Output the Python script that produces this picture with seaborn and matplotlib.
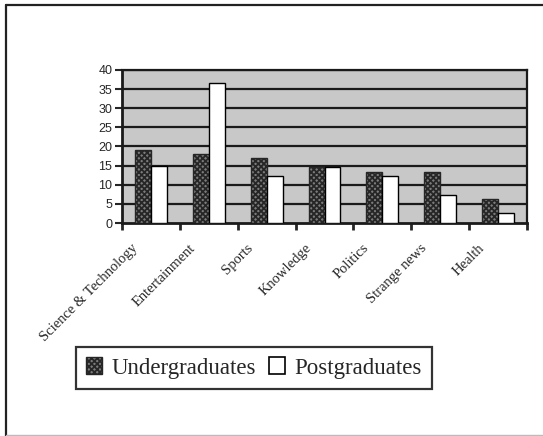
import matplotlib
matplotlib.use("Agg")
import matplotlib.pyplot as plt
from matplotlib.lines import Line2D
from matplotlib.patches import Patch
from matplotlib.transforms import ScaledTranslation
import seaborn as sns
import pandas as pd

categories = ["Science & Technology", "Entertainment", "Sports", "Knowledge",
              "Politics", "Strange news", "Health"]
undergraduates = [19.0, 18.0, 17.0, 14.7, 13.3, 13.3, 6.2]
postgraduates = [14.8, 36.5, 12.3, 14.7, 12.3, 7.2, 2.6]
series_names = ["Undergraduates", "Postgraduates"]
y_ticks = [0, 5, 10, 15, 20, 25, 30, 35, 40]

df = pd.DataFrame({
    "category": categories * 2,
    "value": undergraduates + postgraduates,
    "group": [series_names[0]] * len(categories) + [series_names[1]] * len(categories),
})

sns.set_theme(style="white")
plt.rcParams["hatch.linewidth"] = 1.3

UG_FACE = "#7c7c7c"
UG_HATCH = "#262626"

fig = plt.figure(figsize=(5.43, 4.36), dpi=100)
ax = fig.add_axes([122 / 543, 1 - 223 / 436, (527 - 122) / 543, (223 - 70) / 436])
ax.set_facecolor("#c8c8c8")

sns.barplot(data=df, x="category", y="value", hue="group", order=categories,
            hue_order=series_names, palette=[UG_FACE, "white"], width=0.55,
            gap=0, edgecolor="black", linewidth=1.0, ax=ax, legend=False,
            zorder=3)

n = len(categories)
for i, p in enumerate(ax.patches[:2 * n]):
    if i < n:
        p.set_hatch("xxxxxx")
        p.set_edgecolor(UG_HATCH)
        p.set_facecolor(UG_FACE)

ax.set_ylim(0, 40)
ax.set_xlim(-0.5, n - 0.5)
ax.set_yticks(y_ticks)
ax.set_yticklabels([str(t) for t in y_ticks], fontsize=9, family="Liberation Sans")
for t in y_ticks[1:]:
    ax.axhline(t, color="#1a1a1a", linewidth=1.6, zorder=1)

ax.set_xticks([i - 0.5 for i in range(n + 1)])
ax.set_xticklabels([])
ax.set_xticks(range(n), minor=True)
ax.set_xticklabels(categories, minor=True, rotation=45, ha="right",
                   rotation_mode="anchor", fontsize=10.5, family="Liberation Serif")
ax.tick_params(axis="x", which="minor", length=0, pad=14)
ax.tick_params(axis="x", which="major", length=5, width=2, direction="out", bottom=True)
ax.tick_params(axis="y", length=5, width=1.5, direction="out", left=True, pad=2)
ax.set_xlabel("")
ax.set_ylabel("")
for s in ax.spines.values():
    s.set_visible(True)
    s.set_color("#1a1a1a")
    s.set_linewidth(1.6)
ax.spines["left"].set_linewidth(2)
ax.spines["bottom"].set_linewidth(2)

shift = ScaledTranslation(-20 / 100, 1 / 100, fig.dpi_scale_trans)
for lab in ax.get_xticklabels(minor=True):
    lab.set_transform(lab.get_transform() + shift)

handles = [Patch(facecolor=UG_FACE, edgecolor=UG_HATCH, hatch="xxxxxx", label=series_names[0]),
           Patch(facecolor="white", edgecolor="black", linewidth=1.2, label=series_names[1])]
leg = fig.legend(handles=handles, loc="center", bbox_to_anchor=(254 / 543, 1 - 368 / 436),
                 ncol=2, frameon=True, fancybox=False, edgecolor="black",
                 prop={"family": "Liberation Serif", "size": 16.5},
                 handlelength=0.7, handleheight=0.7, handletextpad=0.4,
                 columnspacing=0.6, borderpad=0.45)
leg.get_frame().set_linewidth(1.6)

fig.add_artist(Line2D([6 / 543, 1], [1 - 5 / 436, 1 - 5 / 436], color="#222222", linewidth=1.6,
                      transform=fig.transFigure))
fig.add_artist(Line2D([6 / 543, 6 / 543], [0, 1 - 5 / 436], color="#222222", linewidth=1.6,
                      transform=fig.transFigure))
fig.add_artist(Line2D([6 / 543, 1], [1 / 436, 1 / 436], color="#bbbbbb", linewidth=1.0,
                      transform=fig.transFigure))

fig.savefig("out.png", dpi=100)
